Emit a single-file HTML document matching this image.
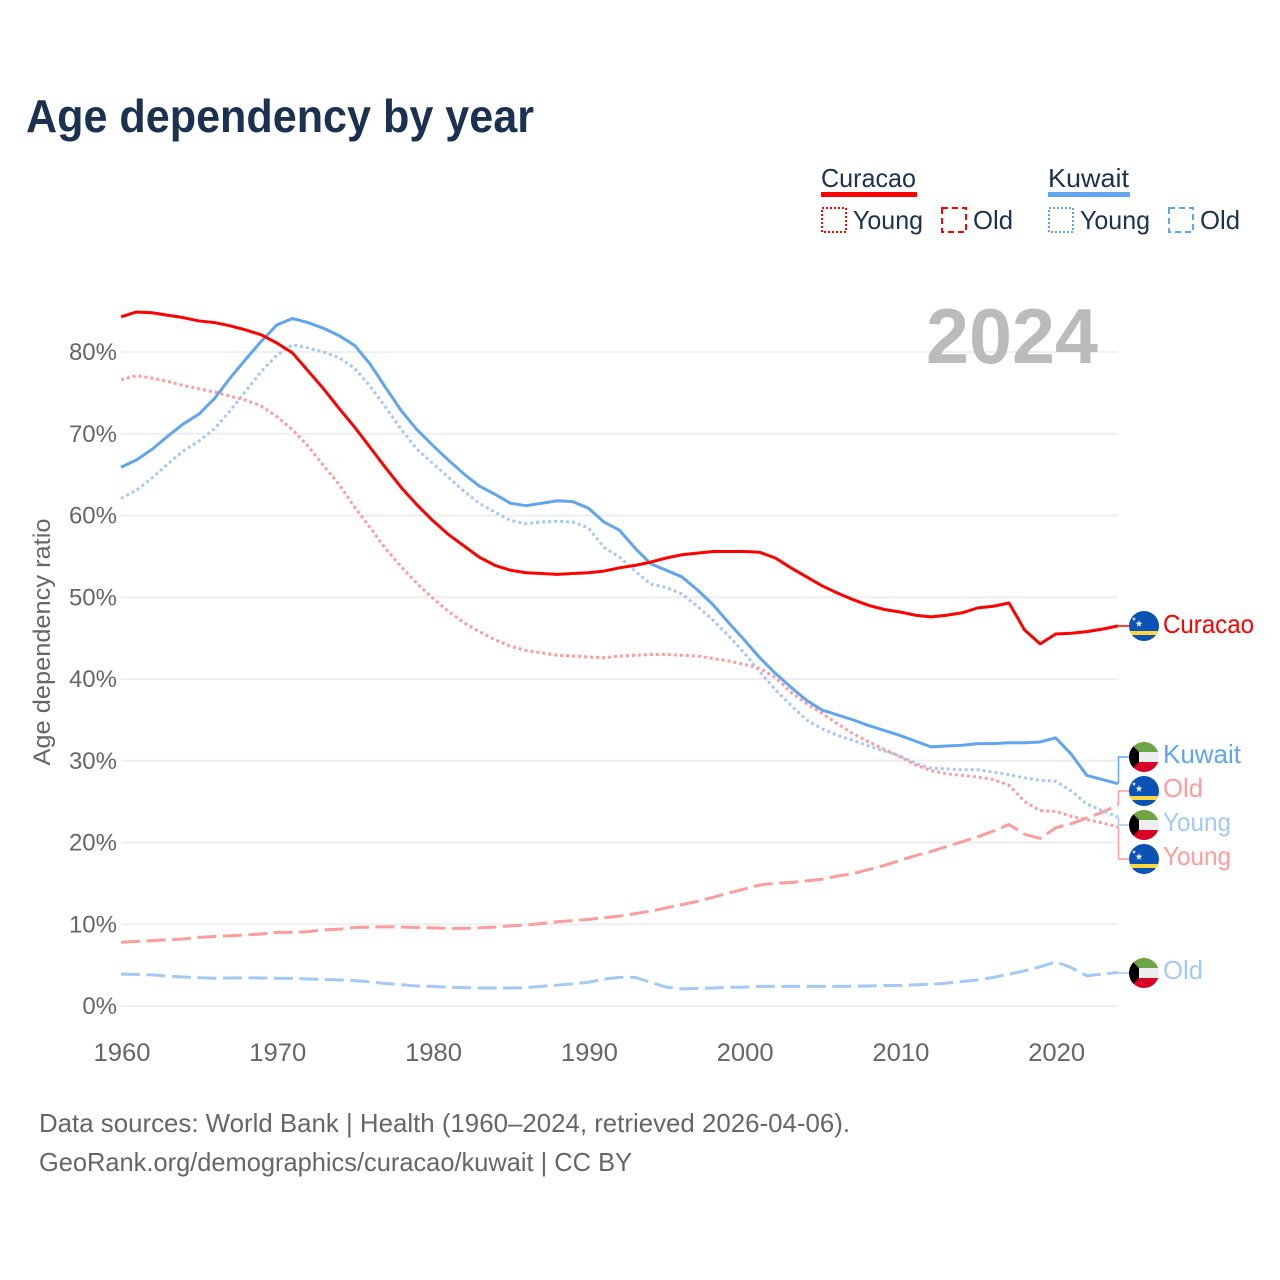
<!DOCTYPE html>
<html lang="en">
<head>
<meta charset="utf-8">
<title>Age dependency by year</title>
<style>
html,body{margin:0;padding:0;background:#fff;width:1280px;height:1280px;overflow:hidden}
svg{display:block;font-family:"Liberation Sans",sans-serif}
</style>
</head>
<body>
<svg id="chart" width="1280" height="1280" viewBox="0 0 1280 1280" xmlns="http://www.w3.org/2000/svg">
<defs>
<clipPath id="flag-clip"><circle cx="0" cy="0" r="15"/></clipPath>
</defs>
<text x="26" y="132" font-size="46" font-weight="700" fill="#1a3150" textLength="508" lengthAdjust="spacingAndGlyphs">Age dependency by year</text>

<g font-size="26" fill="#1a3150">
<text x="821" y="187" textLength="95" lengthAdjust="spacingAndGlyphs">Curacao</text>
<rect x="821" y="192" width="96" height="5" fill="#ff0000"/>
<rect x="822" y="208" width="24" height="24" fill="none" stroke="#ff0000" stroke-width="2" stroke-dasharray="2 2"/>
<text x="853" y="229" textLength="70" lengthAdjust="spacingAndGlyphs">Young</text>
<rect x="942" y="208" width="24" height="24" fill="none" stroke="#ff0000" stroke-width="2" stroke-dasharray="6 4"/>
<text x="973" y="229" textLength="40" lengthAdjust="spacingAndGlyphs">Old</text>
<text x="1048" y="187" textLength="81" lengthAdjust="spacingAndGlyphs">Kuwait</text>
<rect x="1048" y="192" width="82" height="5" fill="#60a5ee"/>
<rect x="1049" y="208" width="24" height="24" fill="none" stroke="#60a5ee" stroke-width="2" stroke-dasharray="2 2"/>
<text x="1080" y="229" textLength="70" lengthAdjust="spacingAndGlyphs">Young</text>
<rect x="1169" y="208" width="24" height="24" fill="none" stroke="#60a5ee" stroke-width="2" stroke-dasharray="6 4"/>
<text x="1200" y="229" textLength="40" lengthAdjust="spacingAndGlyphs">Old</text>
</g>

<g id="grid"></g>
<g id="yticks" font-size="24" fill="#666666" text-anchor="end"></g>
<g id="xticks" font-size="25" fill="#666666" text-anchor="middle"></g>
<text transform="translate(50,642) rotate(-90)" font-size="24" fill="#666666" text-anchor="middle" textLength="247" lengthAdjust="spacingAndGlyphs">Age dependency ratio</text>
<text x="1098" y="363" font-size="78" font-weight="700" fill="#bbbbbb" text-anchor="end" textLength="172" lengthAdjust="spacingAndGlyphs">2024</text>

<g id="series"></g>
<g id="connectors"></g>
<g id="labels" font-size="26"></g>

<g font-size="26" fill="#666666">
<text x="39" y="1132" textLength="811" lengthAdjust="spacingAndGlyphs">Data sources: World Bank | Health (1960–2024, retrieved 2026-04-06).</text>
<text x="39" y="1171" textLength="593" lengthAdjust="spacingAndGlyphs">GeoRank.org/demographics/curacao/kuwait | CC BY</text>
</g>
</svg>
<script>
var startYear = 1960;
var yTickValues = [0, 10, 20, 30, 40, 50, 60, 70, 80];
var xTickValues = [1960, 1970, 1980, 1990, 2000, 2010, 2020];

var curacaoTotal = [84.3,84.9,84.8,84.5,84.2,83.8,83.6,83.2,82.7,82.1,81.1,79.9,77.7,75.5,73.1,70.8,68.3,65.8,63.4,61.3,59.4,57.7,56.3,54.9,53.9,53.3,53,52.9,52.8,52.9,53,53.2,53.6,53.9,54.3,54.8,55.2,55.4,55.6,55.6,55.6,55.5,54.8,53.6,52.5,51.4,50.5,49.7,49,48.5,48.2,47.8,47.6,47.8,48.1,48.7,48.9,49.3,46,44.3,45.5,45.6,45.8,46.1,46.5];
var curacaoYoung = [76.6,77.1,76.8,76.4,75.9,75.5,75.1,74.6,74.1,73.4,72.1,70.5,68.5,66.1,63.8,61,58.5,55.9,53.7,51.7,49.9,48.3,46.9,45.8,44.8,44,43.5,43.2,42.9,42.8,42.7,42.6,42.8,42.9,43,43,42.9,42.8,42.5,42.2,41.8,41.3,40.2,38.4,37,35.8,34.5,33.3,32.3,31.4,30.5,29.5,28.8,28.4,28.2,28,27.7,27,25,23.9,23.8,23.2,22.8,22.4,21.9];
var curacaoOld = [7.8,7.9,8,8.1,8.2,8.4,8.5,8.6,8.7,8.8,9,9,9.1,9.3,9.4,9.6,9.65,9.7,9.65,9.6,9.55,9.5,9.5,9.55,9.65,9.8,9.9,10.1,10.3,10.45,10.6,10.8,11,11.3,11.6,12,12.4,12.8,13.3,13.8,14.3,14.8,15,15.1,15.3,15.5,15.9,16.2,16.7,17.2,17.8,18.4,18.9,19.5,20.1,20.7,21.4,22.2,21,20.5,21.8,22.3,23,23.7,24.6];
var kuwaitTotal = [65.9,66.8,68.1,69.7,71.2,72.4,74.3,76.8,79.1,81.3,83.3,84.1,83.6,82.9,82,80.8,78.5,75.6,72.8,70.5,68.6,66.8,65.1,63.6,62.6,61.5,61.2,61.5,61.8,61.7,60.9,59.2,58.2,56,54.1,53.3,52.5,50.9,49.1,46.9,44.8,42.6,40.7,39,37.4,36.2,35.6,35,34.3,33.7,33.1,32.4,31.7,31.8,31.9,32.1,32.1,32.2,32.2,32.3,32.8,30.8,28.2,27.7,27.2];
var kuwaitYoung = [62.1,63.1,64.6,66.3,67.9,69.1,70.6,72.8,75.2,77.6,79.6,80.9,80.5,80,79.3,78,75.8,73.2,70.5,68.1,66.4,64.7,63,61.5,60.4,59.4,59,59.2,59.3,59.2,58.5,56.1,54.9,53.2,51.6,51.2,50.4,48.9,47.2,45.3,43.2,40.9,38.7,36.8,35,33.9,33.1,32.5,31.8,31.2,30.6,29.7,29.1,29,28.9,28.9,28.6,28.3,27.9,27.6,27.5,26.3,24.7,23.9,23.1];
var kuwaitOld = [3.9,3.85,3.8,3.65,3.55,3.45,3.4,3.42,3.45,3.43,3.4,3.38,3.3,3.25,3.2,3.1,2.95,2.75,2.6,2.45,2.4,2.3,2.25,2.2,2.2,2.2,2.25,2.4,2.55,2.7,2.9,3.3,3.5,3.5,2.9,2.3,2.1,2.15,2.2,2.3,2.3,2.4,2.4,2.4,2.4,2.4,2.4,2.42,2.45,2.5,2.5,2.6,2.65,2.8,3,3.2,3.5,3.9,4.3,4.8,5.4,4.7,3.7,3.9,4.1];

function xScale(year) { return 121 + (year - 1960) * (997 / 64); }
function yScale(v) { return 1006 - v * 8.175; }

var NS = 'http://www.w3.org/2000/svg';
function mk(tag, parent, attrs) {
  var el = document.createElementNS(NS, tag);
  for (var k in attrs) { el.setAttribute(k, attrs[k]); }
  parent.appendChild(el);
  return el;
}

var gridG = document.getElementById('grid');
var yG = document.getElementById('yticks');
yTickValues.forEach(function (v) {
  var line = mk('line', gridG, {x1: 121, x2: 1118, y1: yScale(v), y2: yScale(v), stroke: '#eeeeee', 'stroke-width': 2});
  
  
  var t = mk('text', yG, {x: 117, y: yScale(v) + 8});
  t.textContent = v + '%';
  
  
});

var xG = document.getElementById('xticks');
xTickValues.forEach(function (y) {
  var t = mk('text', xG, {x: xScale(y) + 1, y: 1061, textLength: 57, lengthAdjust: 'spacingAndGlyphs'});
  t.textContent = y;
  
  
});

function pathFor(values) {
  return values.map(function (v, i) {
    return (i ? 'L' : 'M') + xScale(startYear + i).toFixed(2) + ' ' + yScale(v).toFixed(2);
  }).join('');
}

var seriesG = document.getElementById('series');
function drawSeries(values, color, dash, name) {
  var p = mk('path', seriesG, {d: pathFor(values), fill: 'none', stroke: color, 'stroke-width': 3, 'stroke-linejoin': 'round'});
  if (dash) { p.setAttribute('stroke-dasharray', dash); }
  
  
}
drawSeries(kuwaitOld, '#a3caf6', '19 6.5', 'line-kuwait-old');
drawSeries(curacaoOld, '#ff9c9c', '19 6.5', 'line-curacao-old');
drawSeries(kuwaitYoung, '#a3caf6', '3 3', 'line-kuwait-young');
drawSeries(curacaoYoung, '#ff9c9c', '3 3', 'line-curacao-young');
drawSeries(kuwaitTotal, '#60a5ee', null, 'line-kuwait-total');
drawSeries(curacaoTotal, '#ff0000', null, 'line-curacao-total');

var connG = document.getElementById('connectors');
function connector(values, labelY, color, name) {
  var y0 = yScale(values[values.length - 1]);
  var p = mk('path', connG, {d: 'M1118.5 ' + y0.toFixed(1) + 'L1118.5 ' + labelY + 'L1130 ' + labelY, fill: 'none', stroke: color, 'stroke-width': 1.5});
  
  
}
connector(curacaoTotal, 626, '#ff0000', 'connector-curacao-total');
connector(kuwaitTotal, 757, '#60a5ee', 'connector-kuwait-total');
connector(curacaoOld, 791, '#ff9c9c', 'connector-curacao-old');
connector(kuwaitYoung, 825, '#a3caf6', 'connector-kuwait-young');
connector(curacaoYoung, 859, '#ff9c9c', 'connector-curacao-young');
connector(kuwaitOld, 973, '#a3caf6', 'connector-kuwait-old');

var labelsG = document.getElementById('labels');
function curacaoFlag(cy) {
  var g = mk('g', labelsG, {transform: 'translate(1144,' + cy + ')', 'clip-path': 'url(#flag-clip)'});
  
  
  mk('rect', g, {x: -15, y: -15, width: 30, height: 30, fill: '#0a52b4'});
  mk('rect', g, {x: -15, y: 5, width: 30, height: 4, fill: '#ffd83d'});
  mk('polygon', g, {points: '-5,-6 -4.1,-3.4 -1.4,-3.4 -3.6,-1.8 -2.8,0.9 -5,-0.7 -7.2,0.9 -6.4,-1.8 -8.6,-3.4 -5.9,-3.4', fill: '#f0f0f0'});
  mk('polygon', g, {points: '-10,-9 -9.4,-7.6 -8,-7.6 -9.1,-6.6 -8.7,-5.2 -10,-6 -11.3,-5.2 -10.9,-6.6 -12,-7.6 -10.6,-7.6', fill: '#f0f0f0'});
}
function kuwaitFlag(cy) {
  var g = mk('g', labelsG, {transform: 'translate(1144,' + cy + ')', 'clip-path': 'url(#flag-clip)'});
  
  
  mk('rect', g, {x: -15, y: -15, width: 30, height: 10, fill: '#6da544'});
  mk('rect', g, {x: -15, y: -5, width: 30, height: 10, fill: '#eeeeee'});
  mk('rect', g, {x: -15, y: 5, width: 30, height: 10, fill: '#d80027'});
  mk('polygon', g, {points: '-15,-15 -5,-5 -5,5 -15,15', fill: '#000000'});
}
function endLabel(cy, text, color, width, name) {
  var t = mk('text', labelsG, {x: 1163, y: cy + 9, fill: color, textLength: width, lengthAdjust: 'spacingAndGlyphs'});
  t.textContent = text;
  
  
}
curacaoFlag(626);
endLabel(624, 'Curacao', '#ff0000', 91, 'label-curacao-total');
kuwaitFlag(757);
endLabel(754, 'Kuwait', '#60a5ee', 78, 'label-kuwait-total');
curacaoFlag(791);
endLabel(788, 'Old', '#ff9c9c', 40, 'label-curacao-old');
kuwaitFlag(825);
endLabel(822, 'Young', '#a3caf6', 68, 'label-kuwait-young');
curacaoFlag(859);
endLabel(856, 'Young', '#ff9c9c', 68, 'label-curacao-young');
kuwaitFlag(973);
endLabel(970, 'Old', '#a3caf6', 40, 'label-kuwait-old');
</script>
</body>
</html>
